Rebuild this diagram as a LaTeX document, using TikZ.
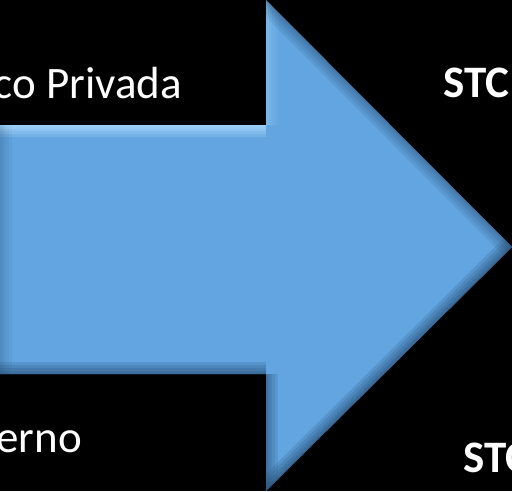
\documentclass[tikz,border=0pt]{standalone}
\usepackage{fontspec}
\setmainfont{Carlito}
\definecolor{arrowblue}{HTML}{62A5E0}
\definecolor{bevlight}{HTML}{B4E0FF}
\definecolor{bevdark}{HTML}{24496E}
\begin{document}
\begin{tikzpicture}[x=1pt,y=-1pt,
  lbl/.style={text=white,font=\fontsize{45}{54}\selectfont,inner sep=0pt},
  lblb/.style={lbl,font=\fontsize{45}{54}\selectfont\bfseries}]
\useasboundingbox (0,0) rectangle (512,491);
\fill[black] (0,0) rectangle (512,491);
% arrow outline
\coordinate (sTL) at (0,125);
\coordinate (nT) at (266,125);
\coordinate (hT) at (266,0);
\coordinate (tip) at (512,247);
\coordinate (hB) at (266,491);
\coordinate (nB) at (266,374);
\coordinate (sBL) at (0,374);
\fill[arrowblue] (sTL) -- (nT) -- (hT) -- (tip) -- (hB) -- (nB) -- (sBL) -- cycle;
\begin{scope}
  \clip (sTL) -- (nT) -- (hT) -- (tip) -- (hB) -- (nB) -- (sBL) -- cycle;
  \foreach \w in {24,18,12,7,3} {
    \draw[bevlight,line width=\w pt,opacity=0.22] (sTL) -- (nT);
    \draw[bevlight,line width=\w pt,opacity=0.08] (nT) -- (hT);
    \draw[bevdark,line width=\w pt,opacity=0.06] (sTL) -- (sBL);
    \draw[bevdark,line width=\w pt,opacity=0.12] (hT) -- (tip);
    \draw[bevdark,line width=\w pt,opacity=0.18] (tip) -- (hB);
    \draw[bevdark,line width=\w pt,opacity=0.14] (hB) -- (nB);
    \draw[bevdark,line width=\w pt,opacity=0.18] (nB) -- (sBL);
  }
\end{scope}
% labels
\node[lbl,anchor=base east] (privada) at (182,98) {co Privada};
\node[lbl,anchor=base east] (gobierno) at (82,452) {erno};
\node[lblb,anchor=base west] (stc1) at (443,97) {STC};
\node[lblb,anchor=base west] (stc2) at (463,472) {STC};
\end{tikzpicture}
\end{document}
